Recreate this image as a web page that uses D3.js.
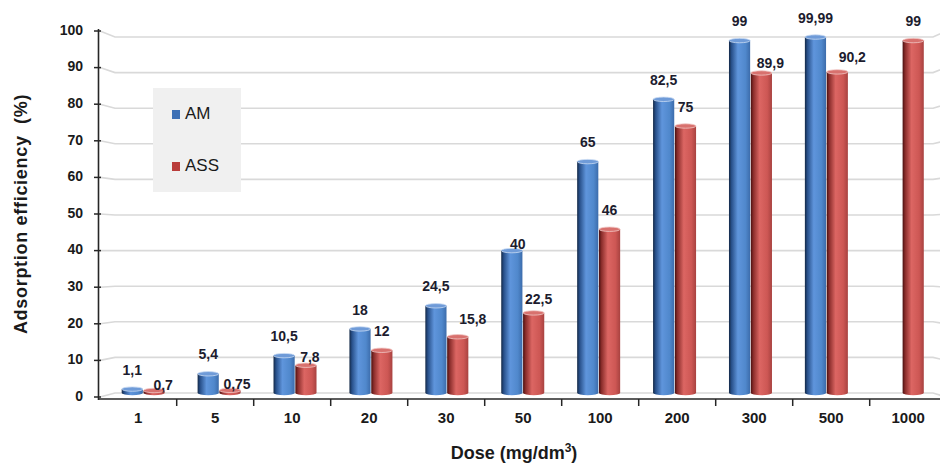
<!DOCTYPE html>
<html>
<head>
<meta charset="utf-8">
<script src="https://cdn.jsdelivr.net/npm/d3@7"></script>
<style>
  html, body { margin: 0; padding: 0; background: #ffffff; }
  svg { display: block; font-family: "Liberation Sans", Arial, sans-serif; }
</style>
</head>
<body>
<svg id="chart" width="940" height="466"></svg>
<script>
// ---- data ----
const categories = ["1", "5", "10", "20", "30", "50", "100", "200", "300", "500", "1000"];
const seriesNames = ["AM", "ASS"];
const amValues  = [1.1, 5.4, 10.5, 18, 24.5, 40, 65, 82.5, 99, 99.99, null];
const assValues = [0.7, 0.75, 7.8, 12, 15.8, 22.5, 46, 75, 89.9, 90.2, 99];
const yTicks = [0, 10, 20, 30, 40, 50, 60, 70, 80, 90, 100];
const xTitle = "Dose (mg/dm";
const yTitle = "Adsorption efficiency  (%)";

// label placement tweaks (layout only) keyed by series|category
const labelNudge = {
  "ASS|1": [9, -4], "ASS|5": [7, -5], "ASS|10": [4, -7], "ASS|30": [15, -16],
  "AM|50": [6, -5], "ASS|50": [5, -13], "ASS|300": [9, -9], "ASS|500": [15, -14]
};

const svg = d3.select("#chart");

// gradients for cylinder look
const defs = svg.append("defs");
const gradStops = {
  AM: [[0, "#132846"], [0.12, "#28508a"], [0.42, "#5f95dc"], [0.78, "#5088cc"], [1, "#3c6cab"]],
  ASS: [[0, "#4a1010"], [0.12, "#8a2d2b"], [0.42, "#dc6663"], [0.78, "#cd5754"], [1, "#a84240"]]
};
seriesNames.forEach(s => {
  const g = defs.append("linearGradient").attr("id", "g" + s)
    .attr("x1", "0").attr("x2", "1").attr("y1", "0").attr("y2", "0");
  gradStops[s].forEach(([o, c]) => g.append("stop").attr("offset", o).attr("stop-color", c));
});

// scales
const yAxisScale = d3.scaleLinear().domain([0, 100]).range([397, 31]);   // front (axis) plane
const yBack = d3.scaleLinear().domain([0, 100]).range([393, 37]);        // back plane (bars, grid)
const xBack = d3.scaleBand().domain(categories).range([100, 935]);
const xSeries = d3.scaleBand().domain(seriesNames).range([21.7, 64.7]).paddingInner(0.03);
const xFront = d3.scaleBand().domain(categories).range([99.7, 946.7]);

// gridlines with perspective ends
const grid = svg.append("g");
yTicks.forEach(v => {
  grid.append("path")
    .attr("d", `M100,${yAxisScale(v)} L115,${yBack(v)} L933,${yBack(v)} L946,${yAxisScale(v)}`)
    .attr("fill", "none").attr("stroke", "#d9d9d9").attr("stroke-width", 1.6);
});

// bars
const bars = svg.append("g");
const seriesData = { AM: amValues, ASS: assValues };
const ry = 2.2;
seriesNames.forEach(s => {
  categories.forEach((c, i) => {
    const v = seriesData[s][i];
    if (v == null) return;
    const x = xBack(c) + xSeries(s);
    const w = xSeries.bandwidth();
    const yTop = yBack(v), yBot = yBack(0);
    const g = bars.append("g");
    g.append("path")
      .attr("d", `M${x},${yTop} L${x},${yBot} A${w/2},${ry} 0 0 0 ${x+w},${yBot} L${x+w},${yTop} Z`)
      .attr("fill", `url(#g${s})`);
    g.append("ellipse")
      .attr("cx", x + w / 2).attr("cy", yTop).attr("rx", w / 2).attr("ry", ry)
      .attr("fill", s === "AM" ? "#6f9bd8" : "#d8716e")
      .attr("stroke", s === "AM" ? "#c9dbf3" : "#f0c6c4").attr("stroke-width", 0.8);
  });
});

// data labels
const labels = svg.append("g")
  .attr("font-size", 14).attr("font-weight", "bold").attr("fill", "#1c1c2e");
seriesNames.forEach(s => {
  categories.forEach((c, i) => {
    const v = seriesData[s][i];
    if (v == null) return;
    const cx = xBack(c) + xSeries(s) + xSeries.bandwidth() / 2;
    const nd = labelNudge[s + "|" + c] || [0, -18];
    labels.append("text")
      .attr("x", cx + nd[0]).attr("y", yBack(v) + nd[1])
      .attr("text-anchor", "middle").attr("dominant-baseline", "middle")
      .text(String(v).replace(".", ","));
  });
});

// y axis
const yAxisG = svg.append("g");
yAxisG.append("line").attr("x1", 98.5).attr("x2", 98.5).attr("y1", 29).attr("y2", 400)
  .attr("stroke", "#262626").attr("stroke-width", 1.6);
yTicks.forEach(v => {
  yAxisG.append("line").attr("x1", 94).attr("x2", 101)
    .attr("y1", yAxisScale(v)).attr("y2", yAxisScale(v))
    .attr("stroke", "#262626").attr("stroke-width", 1.5);
  yAxisG.append("text").attr("x", 83).attr("y", yAxisScale(v))
    .attr("text-anchor", "end").attr("dominant-baseline", "middle")
    .attr("font-size", 14).attr("font-weight", "bold").attr("fill", "#1a1a1a")
    .text(v);
});

// x axis
const xAxisG = svg.append("g");
xAxisG.append("line").attr("x1", 98).attr("x2", 940).attr("y1", 399).attr("y2", 399)
  .attr("stroke", "#262626").attr("stroke-width", 1.6);
categories.forEach((c, i) => {
  if (i > 0) {
    xAxisG.append("line").attr("x1", xFront(c)).attr("x2", xFront(c))
      .attr("y1", 399).attr("y2", 406).attr("stroke", "#262626").attr("stroke-width", 1.5);
  }
  xAxisG.append("text").attr("x", xFront(c) + xFront.bandwidth() / 2).attr("y", 419)
    .attr("text-anchor", "middle").attr("dominant-baseline", "middle")
    .attr("font-size", 15).attr("font-weight", "bold").attr("fill", "#1a1a1a")
    .text(c);
});

// titles
const xt = svg.append("text").attr("x", 514).attr("y", 459)
  .attr("text-anchor", "middle").attr("font-size", 18).attr("font-weight", "bold").attr("fill", "#1a1a1a");
xt.append("tspan").text(xTitle);
xt.append("tspan").attr("font-size", 12).attr("dy", -7).text("3");
xt.append("tspan").attr("dy", 7).text(")");

svg.append("text").attr("transform", "translate(27,214) rotate(-90)")
  .attr("text-anchor", "middle").attr("font-size", 18).attr("font-weight", "bold").attr("fill", "#1a1a1a")
  .attr("letter-spacing", 0.7)
  .attr("xml:space", "preserve").style("white-space", "pre")
  .text(yTitle);

// legend
const lg = svg.append("g");
lg.append("rect").attr("x", 153).attr("y", 88).attr("width", 88).attr("height", 104).attr("fill", "#f0f0f0");
seriesNames.forEach((s, i) => {
  const cy = 114.5 + i * 52;
  lg.append("rect").attr("x", 172).attr("y", cy - 4.5).attr("width", 8).attr("height", 9)
    .attr("fill", s === "AM" ? "#3d70b5" : "#b93c3a");
  lg.append("text").attr("x", 185).attr("y", cy).attr("dominant-baseline", "middle")
    .attr("font-size", 17).attr("fill", "#1a1a1a").text(s);
});
</script>
</body>
</html>
